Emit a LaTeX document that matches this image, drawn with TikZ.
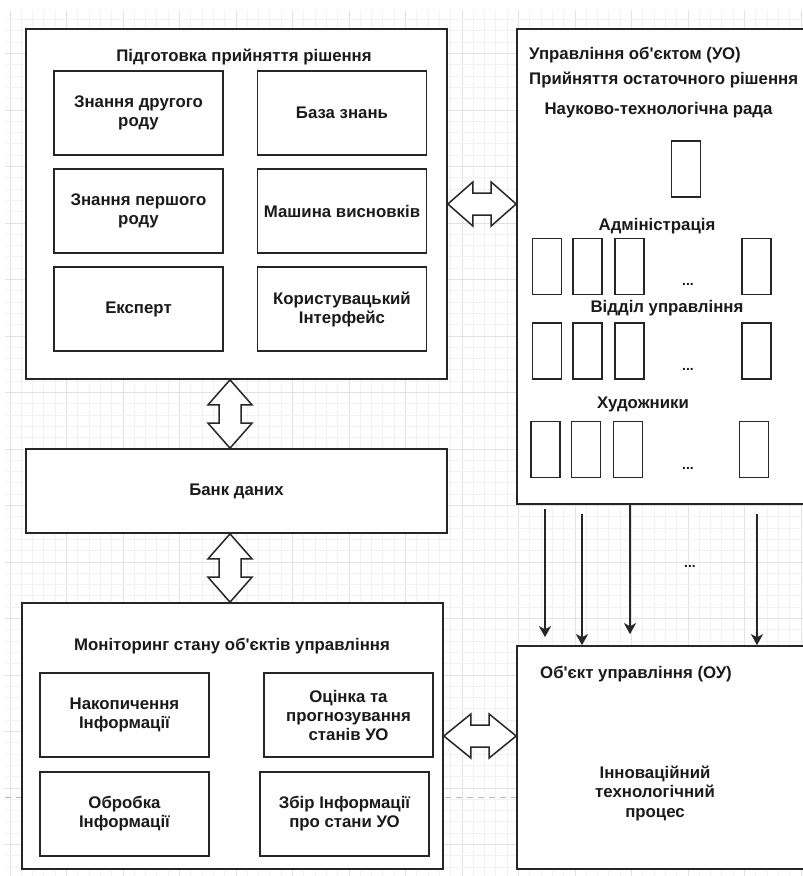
\documentclass[tikz,border=0pt]{standalone}
\usepackage{fontspec}
\setmainfont{Liberation Sans}
\usetikzlibrary{arrows.meta,calc,positioning}
\definecolor{edge}{HTML}{262626}
\definecolor{ink}{HTML}{1A1A1A}
\definecolor{gridminor}{HTML}{F2F2F2}
\definecolor{gridmajor}{HTML}{E2E2E2}

\begin{document}
\begin{tikzpicture}[
  x=1pt, y=-1pt,
  block/.style 2 args={draw=edge, fill=white, line width=1.7pt, inner sep=0pt,
    minimum width=#1, minimum height=#2},
  cell/.style={block={169}{84}, font=\fontsize{16.8}{19}\selectfont\bfseries,
    align=center, text=ink},
  slot/.style={draw=edge, fill=white, line width=1.6pt, minimum width=29, minimum height=56, inner sep=0pt},
  lbl/.style={font=\fontsize{16.8}{19.5}\selectfont\bfseries, text=ink, inner sep=0pt, align=center},
  dots/.style={font=\fontsize{14}{15}\selectfont\bfseries, text=ink, inner sep=0pt, anchor=base},
  twoway/.style={draw=edge, fill=white, line width=1.5pt, line join=miter},
  arr/.style={-{Stealth[length=11pt, width=12pt, inset=3pt]}, line width=1.4pt, draw=edge}
]
  \useasboundingbox (0,0) rectangle (803,876);
  \clip (0,0) rectangle (803,876);

  % Background grid
  \foreach \gx in {0,...,70} {
    \pgfmathsetmacro{\xx}{10+11.3*\gx}
    \pgfmathtruncatemacro{\mj}{mod(\gx,5)}
    \ifnum\mj=0 \draw[gridmajor, line width=0.9pt] (\xx,10) -- (\xx,876);
    \else \draw[gridminor, line width=0.9pt] (\xx,10) -- (\xx,876); \fi
  }
  \foreach \gy in {2,...,77} {
    \pgfmathsetmacro{\yy}{-3+11.3*\gy}
    \pgfmathtruncatemacro{\mj}{mod(\gy,5)}
    \ifnum\mj=0 \draw[gridmajor, line width=0.9pt] (5,\yy) -- (803,\yy);
    \else \draw[gridminor, line width=0.9pt] (5,\yy) -- (803,\yy); \fi
  }
  \draw[gray!55, dashed, dash pattern=on 6pt off 5pt, line width=0.9pt] (5,797) -- (803,797);

  % Decision preparation
  \node[block={421}{350}] (prep) at (236.5,204) {};
  \node[lbl] (prept) at (244,57) {Підготовка прийняття рішення};
  \node[cell] (know2) at (138.5,113) {Знання другого\\роду};
  \node[cell] (kbase) at (342,113) {База знань};
  \node[cell] (know1) at (138.5,211) {Знання першого\\роду};
  \node[cell] (engine) at (342,211) {Машина висновків};
  \node[cell] (expert) at (138.5,309) {Експерт};
  \node[cell] (ui) at (342,309) {Користувацький\\Інтерфейс};

  % Data bank
  \node[block={421}{84}, lbl] (bank) at (236.5,491) {Банк даних};

  % Monitoring
  \node[block={421}{266}] (mon) at (232.5,736) {};
  \node[lbl] (mont) at (232,646) {Моніторинг стану об\textquotesingle єктів управління};
  \node[cell] (accum) at (124.5,715) {Накопичення\\Інформації};
  \node[cell] (assess) at (348.5,715) {Оцінка та\\прогнозування\\станів УО};
  \node[cell] (proc) at (124.5,814) {Обробка\\Інформації};
  \node[cell] (gather) at (344.5,814) {Збір Інформації\\про стани УО};

  % Object management
  \node[block={303}{475}] (uo) at (668.5,266.5) {};
  \node[lbl, anchor=west] (uot) at (529,55) {Управління об\textquotesingle єктом (УО)};
  \node[lbl, anchor=west] (final) at (529,80) {Прийняття остаточного рішення};
  \node[lbl] (council) at (658.5,110) {Науково-технологічна рада};
  \node[slot] (c1) at (686,169) {};
  \node[lbl] (admin) at (657,226) {Адміністрація};
  \node[slot] (a1) at (547,266.5) {};
  \node[slot] (a2) at (587.5,266.5) {};
  \node[slot] (a3) at (629.5,266.5) {};
  \node[slot] (a4) at (756.5,266.5) {};
  \node[dots] at (688,285) {...};
  \node[lbl] (dept) at (667,308) {Відділ управління};
  \node[slot] (d1) at (547,351) {};
  \node[slot] (d2) at (587.5,351) {};
  \node[slot] (d3) at (629.5,351) {};
  \node[slot] (d4) at (756.5,351) {};
  \node[dots] at (688,370) {...};
  \node[lbl] (artists) at (643,404) {Художники};
  \node[slot] (h1) at (545.5,449.5) {};
  \node[slot] (h2) at (586,449.5) {};
  \node[slot] (h3) at (628,449.5) {};
  \node[slot] (h4) at (754,449.5) {};
  \node[dots] at (688,469) {...};

  % Controlled object
  \node[block={303}{223}] (ou) at (668.5,757.5) {};
  \node[lbl, anchor=west] (out) at (540,674) {Об\textquotesingle єкт управління (ОУ)};
  \node[lbl] (innov) at (655,793) {Інноваційний\\технологічний\\процес};

  % Block arrows
  \draw[twoway] ([xshift=-6.5pt]prep.south) -- ++(22,25) -- ++(-11,0)
    -- ($([xshift=-6.5pt]bank.north)+(11,-25)$) -- ++(11,0) -- ([xshift=-6.5pt]bank.north)
    -- ++(-22,-25) -- ++(11,0) -- ($([xshift=-6.5pt]prep.south)+(-11,25)$) -- ++(-11,0) -- cycle;
  \draw[twoway] ([xshift=-6.5pt]bank.south) -- ++(22,25) -- ++(-11,0)
    -- ($([xshift=-2.5pt]mon.north)+(11,-25)$) -- ++(11,0) -- ([xshift=-2.5pt]mon.north)
    -- ++(-22,-25) -- ++(11,0) -- ($([xshift=-6.5pt]bank.south)+(-11,25)$) -- ++(-11,0) -- cycle;
  \draw[twoway] (prep.east) -- ++(25,-22) -- ++(0,11)
    -- ($(uo.west |- prep.east)+(-25,-11)$) -- ++(0,-11) -- (uo.west |- prep.east)
    -- ++(-25,22) -- ++(0,-11) -- ($(prep.east)+(25,11)$) -- ++(0,11) -- cycle;
  \draw[twoway] (mon.east) -- ++(27,-22) -- ++(0,11)
    -- ($(ou.west |- mon.east)+(-27,-11)$) -- ++(0,-11) -- (ou.west |- mon.east)
    -- ++(-27,22) -- ++(0,-11) -- ($(mon.east)+(27,11)$) -- ++(0,11) -- cycle;

  % Arrows down to the object
  \draw[arr, shorten <=4pt, shorten >=8pt] (uo.south -| 545,0) -- (ou.north -| 545,0);
  \draw[arr, shorten <=9pt] (uo.south -| 582,0) -- (ou.north -| 582,0);
  \draw[arr, shorten >=11pt] (uo.south -| 630,0) -- (ou.north -| 630,0);
  \draw[arr, shorten <=9pt] (uo.south -| 757,0) -- (ou.north -| 757,0);
  \node[dots] at (690,567) {...};
\end{tikzpicture}
\end{document}
